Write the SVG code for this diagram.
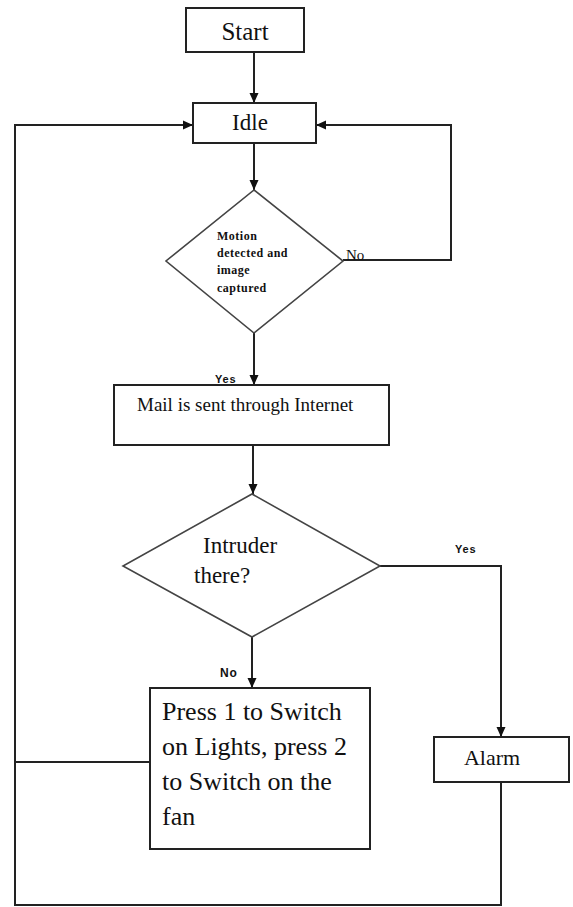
<svg xmlns="http://www.w3.org/2000/svg" width="573" height="907" viewBox="0 0 573 907">
<defs>
<marker id="arr" markerUnits="userSpaceOnUse" markerWidth="10" markerHeight="10" refX="10" refY="5" orient="auto">
<path d="M0,0.5 L10,5 L0,9.5 z" fill="#111"/>
</marker>
<style>
.box{fill:#fff;stroke:#222;stroke-width:2}
.dia{fill:#fff;stroke:#444;stroke-width:1.6}
.ln{fill:none;stroke:#222;stroke-width:2}
.t{font-family:"Liberation Serif","Times New Roman",serif;fill:#111}
.s{font-family:"Liberation Sans",Arial,sans-serif;fill:#111;font-weight:bold}
</style>
</defs>
<rect width="573" height="907" fill="#fff"/>
<g id="connectors">
<path class="ln" d="M254,52 V103" marker-end="url(#arr)"/>
<path class="ln" d="M254,143 V190" marker-end="url(#arr)"/>
<path class="ln" d="M343,260 H451 V125 H316" marker-end="url(#arr)"/>
<path class="ln" d="M254,333 V385" marker-end="url(#arr)"/>
<path class="ln" d="M253,445 V494" marker-end="url(#arr)"/>
<path class="ln" d="M380,566 H501 V737" marker-end="url(#arr)"/>
<path class="ln" d="M252,637 V688" marker-end="url(#arr)"/>
<path class="ln" d="M501,782 V905 H15 V125 H193" marker-end="url(#arr)"/>
<path class="ln" d="M150,762 H15"/>
<text class="t" x="346" y="260" font-size="15">No</text>
<text class="s" x="215" y="383" font-size="11" letter-spacing="0.8">Yes</text>
<text class="s" x="455" y="553" font-size="11" letter-spacing="0.8">Yes</text>
<text class="s" x="220" y="677" font-size="12" letter-spacing="0.8">No</text>
</g>
<g id="start">
<rect class="box" x="186" y="8" width="118" height="44"/>
<text class="t" x="245" y="40" font-size="25" text-anchor="middle">Start</text>
</g>
<g id="idle">
<rect class="box" x="193" y="103" width="123" height="40"/>
<text class="t" x="250" y="130" font-size="23" text-anchor="middle">Idle</text>
</g>
<g id="motion">
<polygon class="dia" points="254,190 343,261 254,333 166,261"/>
<text class="t" font-size="12" font-weight="bold" letter-spacing="0.5">
<tspan x="217" y="240">Motion</tspan>
<tspan x="217" y="257">detected and</tspan>
<tspan x="217" y="274">image</tspan>
<tspan x="217" y="292">captured</tspan>
</text>
</g>
<g id="mail">
<rect class="box" x="114" y="385" width="275" height="60"/>
<text class="t" x="137" y="411" font-size="19">Mail is sent through Internet</text>
</g>
<g id="intruder">
<polygon class="dia" points="252,494 380,566 252,637 123,566"/>
<text class="t" font-size="23">
<tspan x="203" y="553">Intruder</tspan>
<tspan x="194" y="583">there?</tspan>
</text>
</g>
<g id="press">
<rect class="box" x="150" y="688" width="220" height="161"/>
<text class="t" font-size="26">
<tspan x="162" y="720">Press 1 to Switch</tspan>
<tspan x="162" y="755">on Lights, press 2</tspan>
<tspan x="162" y="790">to Switch on the</tspan>
<tspan x="162" y="825">fan</tspan>
</text>
</g>
<g id="alarm">
<rect class="box" x="434" y="737" width="135" height="45"/>
<text class="t" x="492" y="765" font-size="22" text-anchor="middle">Alarm</text>
</g>
</svg>
